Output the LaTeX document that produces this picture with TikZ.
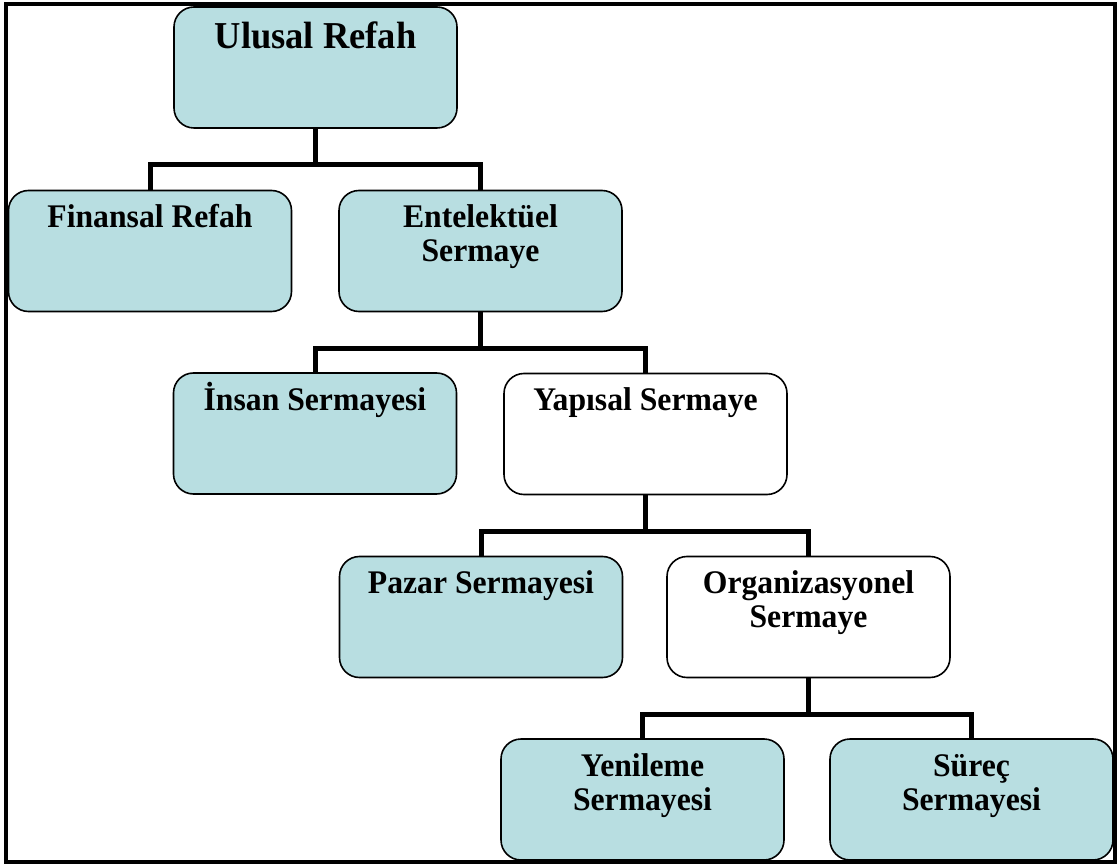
\documentclass[tikz,border=0pt]{standalone}
\usepackage{fontspec}
\setmainfont{Liberation Serif}[FakeStretch=0.96]
\usetikzlibrary{calc}
\definecolor{boxblue}{HTML}{B8DEE1}
\tikzset{
  orgbox/.style={draw=black, line width=1.6pt, rounded corners=20pt,
    minimum width=283pt, minimum height=121pt, inner sep=0pt},
  bluebox/.style={orgbox, fill=boxblue},
  whitebox/.style={orgbox, fill=white},
  lbl/.style={anchor=base, align=center, inner sep=0pt,
    font=\bfseries\fontsize{33}{34}\selectfont},
  biglbl/.style={lbl, font=\bfseries\fontsize{38}{40}\selectfont},
  conn/.style={line width=5pt, line join=miter},
  frame/.style={line width=4pt}
}
\begin{document}
\begin{tikzpicture}[x=1pt, y=1pt]
\useasboundingbox (0,0) rectangle (1118,863);

% boxes of the hierarchy
\node[bluebox]  (ur) at (315.5,795.5) {};
\node[bluebox]  (fr) at (150,612) {};
\node[bluebox]  (es) at (480.5,612) {};
\node[bluebox]  (is) at (315,429.5) {};
\node[whitebox] (ys) at (645.5,429) {};
\node[bluebox]  (ps) at (481,246) {};
\node[whitebox] (os) at (808.5,246) {};
\node[bluebox]  (yn) at (642.5,63.5) {};
\node[bluebox]  (sr) at (971.5,63.5) {};

% captions
\node[biglbl] (ur-t) at ($(ur.north)+(0,-42)$) {Ulusal Refah};
\node[lbl] (fr-t) at ($(fr.north)+(0,-38)$) {Finansal Refah};
\node[lbl] (es-t) at ($(es.north)+(0,-72)$) {Entelektüel\\Sermaye};
\node[lbl] (is-t) at ($(is.north)+(0,-38)$) {İnsan Sermayesi};
\node[lbl] (ys-t) at ($(ys.north)+(0,-38)$) {Yapısal Sermaye};
\node[lbl] (ps-t) at ($(ps.north)+(0,-38)$) {Pazar Sermayesi};
\node[lbl] (os-t) at ($(os.north)+(0,-72)$) {Organizasyonel\\Sermaye};
\node[lbl] (yn-t) at ($(yn.north)+(0,-72)$) {Yenileme\\Sermayesi};
\node[lbl] (sr-t) at ($(sr.north)+(0,-72)$) {Süreç\\Sermayesi};

% elbow connectors
\coordinate (j1) at (ur.south |- 0,698);
\coordinate (j2) at (es.south |- 0,514);
\coordinate (j3) at (ys.south |- 0,332);
\coordinate (j4) at (os.south |- 0,149);
\draw[conn] (ur.south) -- (j1);
\draw[conn] (fr.north) |- (j1) -| (es.north);
\draw[conn] (es.south) -- (j2);
\draw[conn] (is.north) |- (j2) -| (ys.north);
\draw[conn] (ys.south) -- (j3);
\draw[conn] (ps.north) |- (j3) -| (os.north);
\draw[conn] (os.south) -- (j4);
\draw[conn] (yn.north) |- (j4) -| (sr.north);

% outer frame
\draw[frame] (6,1.5) rectangle (1115,859);
\end{tikzpicture}
\end{document}
